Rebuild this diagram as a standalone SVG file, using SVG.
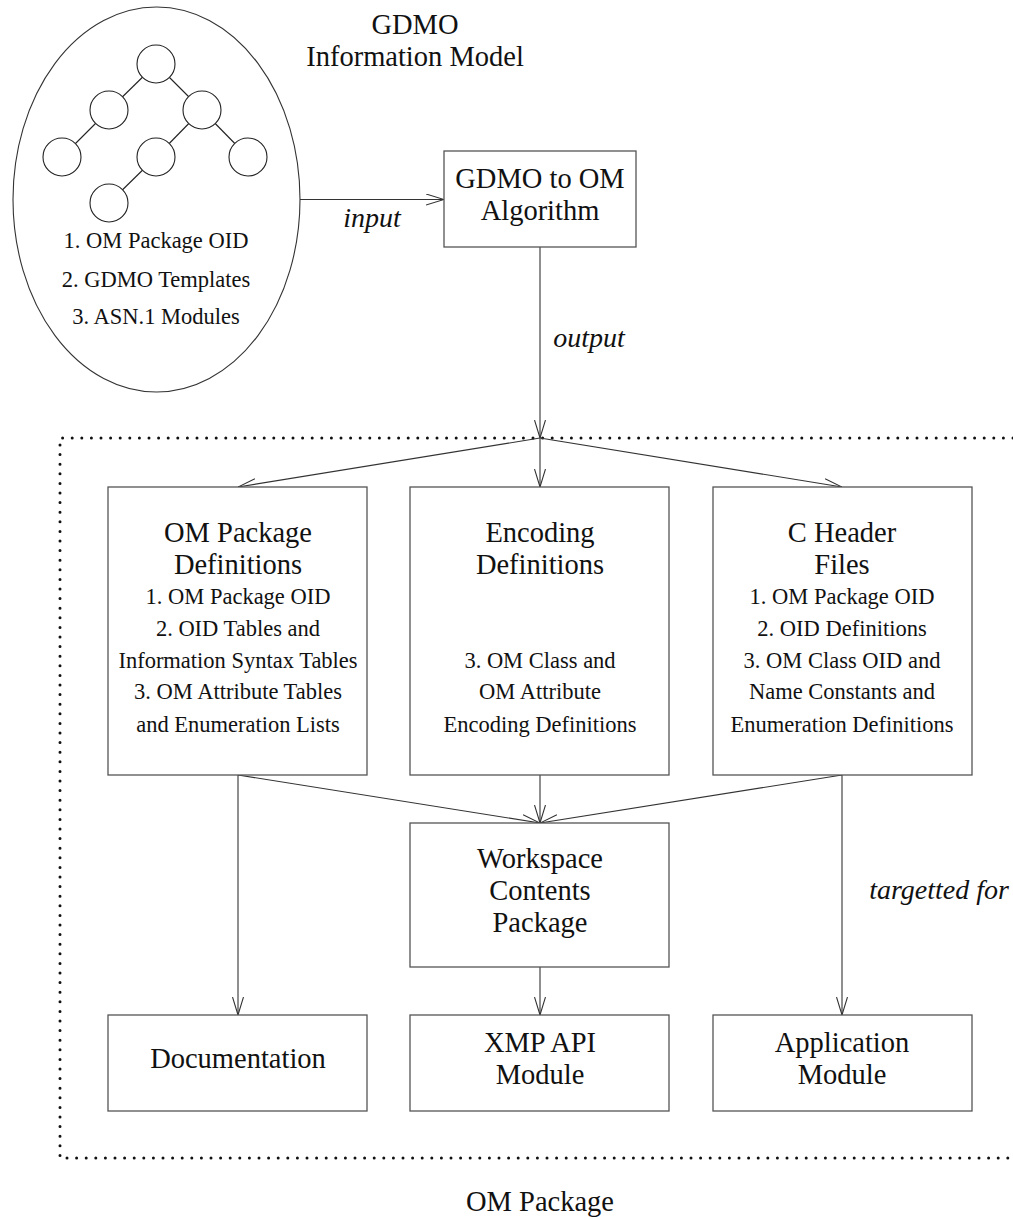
<svg xmlns="http://www.w3.org/2000/svg" width="1013" height="1220" viewBox="0 0 1013 1220">
<style>
text{font-family:"Liberation Serif","Times New Roman",serif;fill:#111;text-anchor:middle}
.h{font-size:28.5px}
.i{font-size:22.5px}
.l{font-size:28px;font-style:italic}
.box{fill:#fff;stroke:#555;stroke-width:1.3}
.c{fill:none;stroke:#333;stroke-width:1.1}
.dot{fill:none;stroke:#111;stroke-width:3;stroke-linecap:round;stroke-dasharray:0 9.6}
.tree{fill:#fff;stroke:#222;stroke-width:1.1}
</style>
<defs>
<marker id="arr" viewBox="0 0 18 12" refX="18" refY="6" markerWidth="18" markerHeight="12" markerUnits="userSpaceOnUse" orient="auto">
<path d="M0,0.5 L18,6 L0,11.5" fill="none" stroke="#333" stroke-width="1.1"/>
</marker>
</defs>
<rect width="1013" height="1220" fill="#fff"/>

<g id="om-package-boundary">
<path class="dot" d="M1013,438 H60 V1158 H1013"/>
<text class="h" x="540" y="1211">OM Package</text>
</g>

<g id="gdmo-model">
<ellipse cx="156.5" cy="199.5" rx="143.5" ry="192.5" fill="#fff" stroke="#333" stroke-width="1.1"/>
<g stroke="#222" stroke-width="1.1">
<line x1="156" y1="64" x2="109" y2="110"/>
<line x1="156" y1="64" x2="202" y2="110"/>
<line x1="109" y1="110" x2="62" y2="157"/>
<line x1="202" y1="110" x2="156" y2="157"/>
<line x1="202" y1="110" x2="248" y2="157"/>
<line x1="156" y1="157" x2="109" y2="203"/>
</g>
<circle class="tree" cx="156" cy="64" r="19"/>
<circle class="tree" cx="109" cy="110" r="19"/>
<circle class="tree" cx="202" cy="110" r="19"/>
<circle class="tree" cx="62" cy="157" r="19"/>
<circle class="tree" cx="156" cy="157" r="19"/>
<circle class="tree" cx="248" cy="157" r="19"/>
<circle class="tree" cx="109" cy="203" r="19"/>
<text class="i" x="156" y="248">1. OM Package OID</text>
<text class="i" x="156" y="287">2. GDMO Templates</text>
<text class="i" x="156" y="324">3. ASN.1 Modules</text>
<text class="h" x="415" y="34">GDMO</text>
<text class="h" x="415" y="66">Information Model</text>
</g>

<g id="connectors">
<line class="c" x1="300" y1="199.5" x2="444" y2="199.5" marker-end="url(#arr)"/>
<text class="l" x="372" y="227">input</text>
<line class="c" x1="540" y1="247" x2="540" y2="438" marker-end="url(#arr)"/>
<text class="l" x="589" y="347">output</text>
<line class="c" x1="540" y1="438" x2="238" y2="487" marker-end="url(#arr)"/>
<line class="c" x1="540" y1="438" x2="540" y2="487" marker-end="url(#arr)"/>
<line class="c" x1="540" y1="438" x2="842" y2="487" marker-end="url(#arr)"/>
<line class="c" x1="238" y1="775" x2="540" y2="823" marker-end="url(#arr)"/>
<line class="c" x1="540" y1="775" x2="540" y2="823" marker-end="url(#arr)"/>
<line class="c" x1="842" y1="775" x2="540" y2="823" marker-end="url(#arr)"/>
<line class="c" x1="238" y1="775" x2="238" y2="1015" marker-end="url(#arr)"/>
<line class="c" x1="540" y1="967" x2="540" y2="1015" marker-end="url(#arr)"/>
<line class="c" x1="842" y1="775" x2="842" y2="1015" marker-end="url(#arr)"/>
<text class="l" x="939" y="899">targetted for</text>
</g>

<g id="gdmo-to-om">
<rect class="box" x="444" y="151" width="192" height="96"/>
<text class="h" x="540" y="188">GDMO to OM</text>
<text class="h" x="540" y="220">Algorithm</text>
</g>

<g id="om-package-definitions">
<rect class="box" x="108" y="487" width="259" height="288"/>
<text class="h" x="238" y="542">OM Package</text>
<text class="h" x="238" y="574">Definitions</text>
<text class="i" x="238" y="604">1. OM Package OID</text>
<text class="i" x="238" y="636">2. OID Tables and</text>
<text class="i" x="238" y="668">Information Syntax Tables</text>
<text class="i" x="238" y="699">3. OM Attribute Tables</text>
<text class="i" x="238" y="732">and Enumeration Lists</text>
</g>

<g id="encoding-definitions">
<rect class="box" x="410" y="487" width="259" height="288"/>
<text class="h" x="540" y="542">Encoding</text>
<text class="h" x="540" y="574">Definitions</text>
<text class="i" x="540" y="668">3. OM Class and</text>
<text class="i" x="540" y="699">OM Attribute</text>
<text class="i" x="540" y="732">Encoding Definitions</text>
</g>

<g id="c-header-files">
<rect class="box" x="713" y="487" width="259" height="288"/>
<text class="h" x="842" y="542">C Header</text>
<text class="h" x="842" y="574">Files</text>
<text class="i" x="842" y="604">1. OM Package OID</text>
<text class="i" x="842" y="636">2. OID Definitions</text>
<text class="i" x="842" y="668">3. OM Class OID and</text>
<text class="i" x="842" y="699">Name Constants and</text>
<text class="i" x="842" y="732">Enumeration Definitions</text>
</g>

<g id="workspace-contents-package">
<rect class="box" x="410" y="823" width="259" height="144"/>
<text class="h" x="540" y="868">Workspace</text>
<text class="h" x="540" y="900">Contents</text>
<text class="h" x="540" y="932">Package</text>
</g>

<g id="documentation">
<rect class="box" x="108" y="1015" width="259" height="96"/>
<text class="h" x="238" y="1068">Documentation</text>
</g>

<g id="xmp-api-module">
<rect class="box" x="410" y="1015" width="259" height="96"/>
<text class="h" x="540" y="1052">XMP API</text>
<text class="h" x="540" y="1084">Module</text>
</g>

<g id="application-module">
<rect class="box" x="713" y="1015" width="259" height="96"/>
<text class="h" x="842" y="1052">Application</text>
<text class="h" x="842" y="1084">Module</text>
</g>
</svg>
